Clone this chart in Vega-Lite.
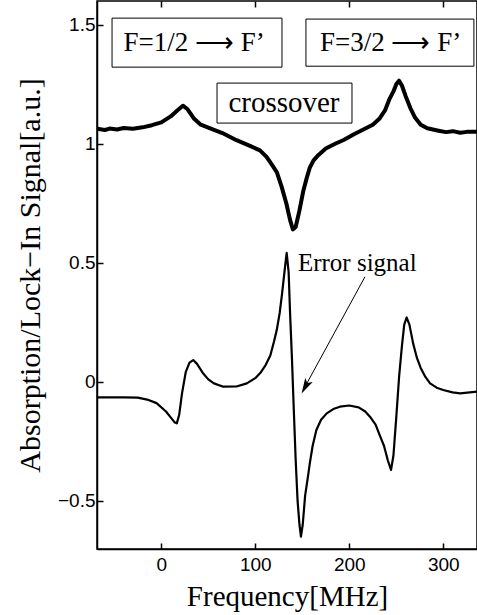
{
  "$schema": "https://vega.github.io/schema/vega-lite/v6.json",
  "width": 380,
  "height": 548,
  "autosize": {"type": "none"},
  "padding": {"left": 97, "top": 1, "right": 0, "bottom": 66},
  "background": "white",
  "config": {
    "view": {"stroke": "black", "strokeWidth": 1.5},
    "axis": {
      "grid": false,
      "domainColor": "black",
      "domainWidth": 1.5,
      "tickColor": "black",
      "tickWidth": 1.5,
      "tickSize": -6,
      "labelColor": "black",
      "labelFont": "Liberation Sans",
      "labelFontSize": 19,
      "titleColor": "black",
      "titleFont": "Liberation Serif",
      "titleFontSize": 29,
      "titleFontWeight": "normal"
    }
  },
  "datasets": {
    "abs": [
      {"f": -68, "v": 1.063}, {"f": -60, "v": 1.058}, {"f": -55, "v": 1.064}, {"f": -47, "v": 1.06}, {"f": -40, "v": 1.066}, {"f": -30, "v": 1.063}, {"f": -20, "v": 1.069},
      {"f": -10, "v": 1.078}, {"f": 0, "v": 1.09}, {"f": 10, "v": 1.115}, {"f": 17, "v": 1.14}, {"f": 23, "v": 1.16},
      {"f": 28, "v": 1.145}, {"f": 35, "v": 1.105}, {"f": 42, "v": 1.08}, {"f": 52, "v": 1.065}, {"f": 65, "v": 1.045},
      {"f": 80, "v": 1.015}, {"f": 95, "v": 0.99}, {"f": 105, "v": 0.972}, {"f": 112, "v": 0.945}, {"f": 118, "v": 0.91},
      {"f": 123, "v": 0.88}, {"f": 128, "v": 0.82}, {"f": 133, "v": 0.75}, {"f": 137, "v": 0.68}, {"f": 140, "v": 0.64},
      {"f": 143, "v": 0.65}, {"f": 147, "v": 0.72}, {"f": 151, "v": 0.8}, {"f": 155, "v": 0.86}, {"f": 158, "v": 0.9},
      {"f": 162, "v": 0.93}, {"f": 167, "v": 0.952}, {"f": 175, "v": 0.98}, {"f": 185, "v": 1.0}, {"f": 194, "v": 1.016},
      {"f": 205, "v": 1.04}, {"f": 215, "v": 1.06}, {"f": 225, "v": 1.08}, {"f": 232, "v": 1.105}, {"f": 238, "v": 1.14},
      {"f": 243, "v": 1.19}, {"f": 247, "v": 1.22}, {"f": 250, "v": 1.25}, {"f": 253, "v": 1.265}, {"f": 256, "v": 1.245},
      {"f": 260, "v": 1.2}, {"f": 265, "v": 1.15}, {"f": 270, "v": 1.11}, {"f": 276, "v": 1.08}, {"f": 283, "v": 1.065},
      {"f": 295, "v": 1.055}, {"f": 303, "v": 1.049}, {"f": 310, "v": 1.053}, {"f": 318, "v": 1.046}, {"f": 325, "v": 1.05}, {"f": 336, "v": 1.05}
    ],
    "err": [
      {"f": -68, "v": -0.066}, {"f": -40, "v": -0.066}, {"f": -25, "v": -0.067}, {"f": -15, "v": -0.075}, {"f": -5, "v": -0.09},
      {"f": 5, "v": -0.125}, {"f": 10, "v": -0.15}, {"f": 14, "v": -0.17}, {"f": 16.5, "v": -0.175}, {"f": 19, "v": -0.14},
      {"f": 22, "v": -0.05}, {"f": 26, "v": 0.04}, {"f": 30, "v": 0.08}, {"f": 34, "v": 0.091}, {"f": 38, "v": 0.075},
      {"f": 44, "v": 0.038}, {"f": 50, "v": 0.01}, {"f": 56, "v": -0.007}, {"f": 66, "v": -0.021}, {"f": 80, "v": -0.02},
      {"f": 91, "v": -0.007}, {"f": 100, "v": 0.015}, {"f": 106, "v": 0.04}, {"f": 111, "v": 0.07}, {"f": 116, "v": 0.11},
      {"f": 120, "v": 0.17}, {"f": 123, "v": 0.22}, {"f": 126, "v": 0.29}, {"f": 128.5, "v": 0.37}, {"f": 131, "v": 0.46},
      {"f": 133.4, "v": 0.542}, {"f": 135.5, "v": 0.46}, {"f": 137, "v": 0.29}, {"f": 139, "v": 0.1}, {"f": 141, "v": -0.12},
      {"f": 143, "v": -0.33}, {"f": 145, "v": -0.5}, {"f": 147, "v": -0.6}, {"f": 148.6, "v": -0.651}, {"f": 150.5, "v": -0.6},
      {"f": 153, "v": -0.48}, {"f": 156, "v": -0.4}, {"f": 158, "v": -0.343}, {"f": 161, "v": -0.27}, {"f": 165, "v": -0.203},
      {"f": 170, "v": -0.16}, {"f": 176, "v": -0.133}, {"f": 183, "v": -0.115}, {"f": 190, "v": -0.105}, {"f": 200, "v": -0.1},
      {"f": 210, "v": -0.108}, {"f": 217, "v": -0.125}, {"f": 222, "v": -0.147}, {"f": 228, "v": -0.18}, {"f": 233, "v": -0.231},
      {"f": 237, "v": -0.27}, {"f": 241, "v": -0.33}, {"f": 244.4, "v": -0.371}, {"f": 247, "v": -0.31}, {"f": 250, "v": -0.15},
      {"f": 253, "v": 0.02}, {"f": 256, "v": 0.15}, {"f": 258.5, "v": 0.24}, {"f": 261, "v": 0.27}, {"f": 264, "v": 0.24},
      {"f": 268, "v": 0.16}, {"f": 272, "v": 0.1}, {"f": 276, "v": 0.058}, {"f": 281, "v": 0.02}, {"f": 286, "v": -0.007},
      {"f": 293, "v": -0.025}, {"f": 300, "v": -0.035}, {"f": 310, "v": -0.045}, {"f": 318, "v": -0.049}, {"f": 336, "v": -0.042}
    ],
    "boxes": [
      {"x1": -52.4, "x2": 128.4, "y1": 1.322, "y2": 1.528, "tx": 35, "ty": 1.425, "label": "F=1/2 ⟶ F’", "size": 27},
      {"x1": 153.9, "x2": 332.6, "y1": 1.326, "y2": 1.524, "tx": 244, "ty": 1.425, "label": "F=3/2 ⟶ F’", "size": 27},
      {"x1": 59.3, "x2": 202.9, "y1": 1.087, "y2": 1.255, "tx": 130.5, "ty": 1.171, "label": "crossover", "size": 29}
    ],
    "arrow": [
      {"x1": 216.7, "y1": 0.441, "x2": 151, "y2": -0.035}
    ],
    "head": [
      {"f": 153.2, "v": -0.021}
    ],
    "note": [
      {"f": 145.4, "v": 0.466, "label": "Error signal"}
    ]
  },
  "resolve": {"axis": {"x": "independent"}},
  "layer": [
    {
      "data": {"name": "abs"},
      "mark": {"type": "line", "color": "black", "strokeWidth": 4, "strokeJoin": "round"},
      "encoding": {
        "x": {"field": "f", "type": "quantitative", "scale": {"domain": [-68.4, 335.9], "nice": false, "zero": false},
              "axis": {"orient": "bottom", "values": [0, 100, 200, 300], "title": "Frequency[MHz]", "labelPadding": 12, "titlePadding": 8}},
        "y": {"field": "v", "type": "quantitative", "scale": {"domain": [-0.703, 1.6], "nice": false, "zero": false},
              "axis": {"orient": "left", "values": [-0.5, 0, 0.5, 1, 1.5], "format": "~g", "title": "Absorption/Lock−In Signal[a.u.]", "labelPadding": 8, "titleFontSize": 30, "titlePadding": 12}}
      }
    },
    {
      "data": {"name": "err"},
      "mark": {"type": "line", "color": "black", "strokeWidth": 2.2, "strokeJoin": "round"},
      "encoding": {
        "x": {"field": "f", "type": "quantitative", "axis": {"orient": "top", "values": [0, 100, 200, 300], "labels": false, "title": null, "domain": false}},
        "y": {"field": "v", "type": "quantitative"}
      }
    },
    {
      "data": {"name": "boxes"},
      "mark": {"type": "rect", "fill": "white", "stroke": "black", "strokeWidth": 1},
      "encoding": {
        "x": {"field": "x1", "type": "quantitative", "axis": null},
        "x2": {"field": "x2"},
        "y": {"field": "y1", "type": "quantitative"},
        "y2": {"field": "y2"}
      }
    },
    {
      "data": {"name": "boxes"},
      "mark": {"type": "text", "font": "Liberation Serif", "color": "black", "align": "center", "baseline": "middle"},
      "encoding": {
        "x": {"field": "tx", "type": "quantitative", "axis": null},
        "y": {"field": "ty", "type": "quantitative"},
        "text": {"field": "label"},
        "size": {"field": "size", "type": "quantitative", "scale": null}
      }
    },
    {
      "data": {"name": "arrow"},
      "mark": {"type": "rule", "color": "black", "strokeWidth": 1},
      "encoding": {
        "x": {"field": "x1", "type": "quantitative", "axis": null},
        "y": {"field": "y1", "type": "quantitative"},
        "x2": {"field": "x2"},
        "y2": {"field": "y2"}
      }
    },
    {
      "data": {"name": "head"},
      "mark": {"type": "point", "shape": "M0,-1L0.55,1L0,0.55L-0.55,1Z", "filled": true, "color": "black", "opacity": 1, "size": 240, "angle": 208.5},
      "encoding": {
        "x": {"field": "f", "type": "quantitative", "axis": null},
        "y": {"field": "v", "type": "quantitative"}
      }
    },
    {
      "data": {"name": "note"},
      "mark": {"type": "text", "font": "Liberation Serif", "fontSize": 25, "color": "black", "align": "left", "baseline": "alphabetic"},
      "encoding": {
        "x": {"field": "f", "type": "quantitative", "axis": null},
        "y": {"field": "v", "type": "quantitative"},
        "text": {"field": "label"}
      }
    }
  ]
}
